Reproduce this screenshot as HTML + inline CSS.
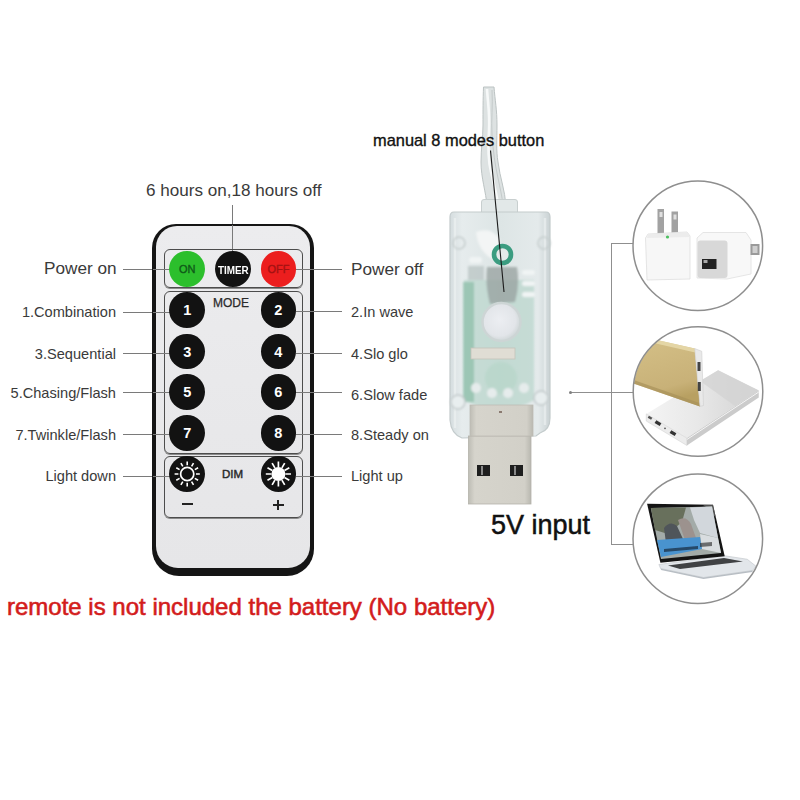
<!DOCTYPE html>
<html><head><meta charset="utf-8">
<style>
*{margin:0;padding:0;box-sizing:border-box}
html,body{width:800px;height:800px;overflow:hidden;background:#fff}
body{position:relative;font-family:"Liberation Sans",sans-serif;color:#3a3a3a}
.a{position:absolute}
.t{position:absolute;white-space:nowrap;line-height:1}
.l{position:absolute;height:1.3px;background:#7a7a7a}
.lr{text-align:right}
.btn{position:absolute;width:35.8px;height:35.8px;border-radius:50%;background:#121212;color:#fff;font-weight:700;font-size:14.5px;text-align:center;line-height:36.5px}
.grp{position:absolute;border:1.6px solid #4c4c4c;border-radius:6px;box-shadow:0 1px 0 #8a8a8a}
</style></head><body>

<!-- top label -->
<div class="t" style="left:146px;top:181.7px;font-size:17.1px">6 hours on,18 hours off</div>
<div class="a" style="left:232px;top:204.5px;width:1.3px;height:46px;background:#7a7a7a"></div>

<!-- left labels -->
<div class="t" style="left:44px;top:260px;font-size:17.2px">Power on</div>
<div class="l" style="left:123px;top:268.5px;width:30px"></div>

<div class="t lr" style="right:684px;top:304.5px;font-size:14.6px">1.Combination</div>
<div class="l" style="left:123px;top:312px;width:30px"></div>
<div class="t lr" style="right:684px;top:346.5px;font-size:14.6px">3.Sequential</div>
<div class="l" style="left:123px;top:353px;width:30px"></div>
<div class="t lr" style="right:684px;top:385.5px;font-size:14.6px">5.Chasing/Flash</div>
<div class="l" style="left:123px;top:392px;width:30px"></div>
<div class="t lr" style="right:684px;top:427.5px;font-size:14.6px">7.Twinkle/Flash</div>
<div class="l" style="left:123px;top:434px;width:30px"></div>
<div class="t lr" style="right:684px;top:469px;font-size:14.6px">Light down</div>
<div class="l" style="left:123px;top:476px;width:30px"></div>

<!-- right labels -->
<div class="t" style="left:351px;top:261px;font-size:17.2px">Power off</div>
<div class="l" style="left:314px;top:268.5px;width:28px"></div>
<div class="t" style="left:351px;top:304.5px;font-size:14.6px">2.In wave</div>
<div class="l" style="left:314px;top:311px;width:28px"></div>
<div class="t" style="left:351px;top:346.5px;font-size:14.6px">4.Slo glo</div>
<div class="l" style="left:314px;top:353px;width:28px"></div>
<div class="t" style="left:351px;top:387.5px;font-size:14.6px">6.Slow fade</div>
<div class="l" style="left:314px;top:392px;width:28px"></div>
<div class="t" style="left:351px;top:427.5px;font-size:14.6px">8.Steady on</div>
<div class="l" style="left:314px;top:434px;width:28px"></div>
<div class="t" style="left:351px;top:469px;font-size:14.6px">Light up</div>
<div class="l" style="left:314px;top:476px;width:28px"></div>

<!-- remote -->
<div class="a" style="left:152px;top:224px;width:162px;height:351.5px;background:#151515;border-radius:24px 24px 27px 27px"></div>
<div class="a" style="left:156px;top:226.2px;width:154px;height:341.5px;background:linear-gradient(#ececee,#e8e8ea 60%,#e6e6e8);border-radius:21px 21px 22px 22px"></div>
<div class="a" style="left:232px;top:225px;width:1.3px;height:27px;background:#7a7a7a"></div>

<div class="grp" style="left:163.5px;top:248.8px;width:139px;height:39.7px"></div>
<div class="grp" style="left:163.5px;top:291px;width:139px;height:162.5px"></div>
<div class="grp" style="left:163.5px;top:455.5px;width:139px;height:62px"></div>

<!-- left lines continue over remote -->
<div class="l" style="left:153px;top:268.5px;width:18px"></div>
<div class="l" style="left:153px;top:312px;width:18px"></div>
<div class="l" style="left:153px;top:353px;width:18px"></div>
<div class="l" style="left:153px;top:392px;width:18px"></div>
<div class="l" style="left:153px;top:434px;width:18px"></div>
<div class="l" style="left:153px;top:476px;width:18px"></div>
<div class="l" style="left:296px;top:268.5px;width:18px"></div>
<div class="l" style="left:296px;top:311px;width:18px"></div>
<div class="l" style="left:296px;top:353px;width:18px"></div>
<div class="l" style="left:296px;top:392px;width:18px"></div>
<div class="l" style="left:296px;top:434px;width:18px"></div>
<div class="l" style="left:296px;top:476px;width:18px"></div>

<div class="btn" style="left:169.30px;top:250.85px;background:#2cbf2c;color:#0f5a18;font-weight:400;font-size:11px;-webkit-text-stroke:.35px #0f5a18">ON</div>
<div class="btn" style="left:214.80px;top:250.85px"><span style="display:inline-block;transform:scaleX(.84);font-size:11.8px">TIMER</span></div>
<div class="btn" style="left:260.50px;top:250.85px;background:#ec1e1e;color:#a81414;font-weight:400;font-size:11px;-webkit-text-stroke:.35px #a01010">OFF</div>

<div class="t" style="left:213px;top:297px;font-size:12px;color:#2a2a2a;-webkit-text-stroke:.25px #2a2a2a">MODE</div>
<div class="btn" style="left:169.30px;top:292.30px">1</div>
<div class="btn" style="left:260.50px;top:292.30px">2</div>
<div class="btn" style="left:169.30px;top:333.60px">3</div>
<div class="btn" style="left:260.50px;top:333.60px">4</div>
<div class="btn" style="left:169.30px;top:374.40px">5</div>
<div class="btn" style="left:260.50px;top:374.40px">6</div>
<div class="btn" style="left:169.30px;top:415.40px">7</div>
<div class="btn" style="left:260.50px;top:415.40px">8</div>

<div class="btn" style="left:169.30px;top:456.10px"></div>
<div class="btn" style="left:260.50px;top:456.10px"></div>
<div class="t" style="left:222px;top:469px;font-size:11.5px;color:#2a2a2a;-webkit-text-stroke:.45px #2a2a2a">DIM</div>
<div class="a" style="left:181.5px;top:503.2px;width:11.5px;height:2.3px;background:#222"></div>
<div class="a" style="left:272.5px;top:504px;width:11.5px;height:2.2px;background:#222"></div>
<div class="a" style="left:277.1px;top:499.5px;width:2.2px;height:10.8px;background:#222"></div>

<!-- red text -->
<div class="t" style="left:7px;top:595px;font-size:24px;color:#d31c1c;-webkit-text-stroke:.6px #d31c1c">remote is not included the battery (No battery)</div>

<!-- USB -->
<div class="t" style="left:491px;top:512px;font-size:27px;color:#111;-webkit-text-stroke:.5px #111">5V input</div>

<!-- bracket -->
<div class="a" style="left:611.3px;top:243px;width:1.2px;height:301.5px;background:#8f8f8f"></div>
<div class="a" style="left:611.3px;top:243px;width:21.7px;height:1.2px;background:#8f8f8f"></div>
<div class="a" style="left:611.3px;top:543.5px;width:21.7px;height:1.2px;background:#8f8f8f"></div>
<div class="a" style="left:570.5px;top:392px;width:62.5px;height:1.2px;background:#8f8f8f"></div>
<div class="a" style="left:569px;top:391px;width:3.2px;height:3.2px;border-radius:50%;background:#808080"></div>



<svg class="a" style="left:0;top:0" width="800" height="800" viewBox="0 0 800 800">
<defs>
  <linearGradient id="cable" x1="0" x2="1">
    <stop offset="0" stop-color="#c9cfcd"/><stop offset=".35" stop-color="#eef1f0"/><stop offset=".7" stop-color="#dfe4e2"/><stop offset="1" stop-color="#c4cac8"/>
  </linearGradient>
  <linearGradient id="body" x1="0" x2="1">
    <stop offset="0" stop-color="#d5dddf"/><stop offset=".12" stop-color="#e6eced"/><stop offset=".5" stop-color="#dde5e5"/><stop offset=".88" stop-color="#e4eaeb"/><stop offset="1" stop-color="#cad2d4"/>
  </linearGradient>
  <linearGradient id="plug" x1="0" x2="1">
    <stop offset="0" stop-color="#bebdb5"/><stop offset=".1" stop-color="#d6d4cc"/><stop offset=".9" stop-color="#d2d0c8"/><stop offset="1" stop-color="#b9b8b0"/>
  </linearGradient>
  <radialGradient id="btnw" cx=".45" cy=".45" r=".6">
    <stop offset="0" stop-color="#eceef2"/><stop offset=".7" stop-color="#e2e5e9"/><stop offset="1" stop-color="#c9d2d2"/>
  </radialGradient>
  <linearGradient id="gold" x1="0" y1="0" x2="0.3" y2="1">
    <stop offset="0" stop-color="#e6d8a6"/><stop offset=".15" stop-color="#d2bd84"/><stop offset=".8" stop-color="#c8b178"/><stop offset="1" stop-color="#b8a062"/>
  </linearGradient>
  <linearGradient id="silver" x1="0" y1="0" x2="1" y2="0">
    <stop offset="0" stop-color="#f4f4f4"/><stop offset=".45" stop-color="#e8e8e8"/><stop offset="1" stop-color="#d2d2d2"/>
  </linearGradient>
  <linearGradient id="screen" x1="0" y1="0" x2="0" y2="1">
    <stop offset="0" stop-color="#7d8a78"/><stop offset=".45" stop-color="#9aa09a"/><stop offset=".7" stop-color="#c9d4dc"/><stop offset=".82" stop-color="#4b8fc4"/><stop offset="1" stop-color="#5b9ccc"/>
  </linearGradient>
  <filter id="bl" x="-20%" y="-20%" width="140%" height="140%"><feGaussianBlur stdDeviation="1.2"/></filter>
  <filter id="bl2" x="-20%" y="-20%" width="140%" height="140%"><feGaussianBlur stdDeviation=".6"/></filter>
  <clipPath id="c2"><circle cx="698" cy="391.5" r="64.5"/></clipPath>
  <clipPath id="c3"><circle cx="698" cy="538.7" r="64.5"/></clipPath>
</defs>

<!-- cable -->
<g filter="url(#bl2)">
<path d="M483.5,87 L494,87 C495,100 497,110 497,125 C497,140 496,150 498,162 C500,178 505,190 506,206 L487,206 C486,192 481,178 481,162 C481,148 483,138 483,125 C483,110 483,100 483.5,87Z" fill="#dde2e2" stroke="#bcc3c3" stroke-width="1"/>
<path d="M487,89 C488,105 490,115 489,130 C488,145 488,160 491,172 C494,185 497,195 498,205" fill="none" stroke="#f7f9f9" stroke-width="2.6"/>
<path d="M492,90 C493,105 491,120 492,135 C493,150 495,165 498,178 C500,188 502,196 503,205" fill="none" stroke="#c4caca" stroke-width="1"/>
</g>
<!-- tab -->
<rect x="481.5" y="199.5" width="36" height="16" rx="2.5" fill="#e2e8e8" stroke="#c8cfcf" stroke-width="1"/>
<!-- body -->
<path d="M454,212 L546,212 Q550,212 550,217 L550,418 Q550,430 540,433 L536,436 L462,438 Q451,434 450,420 L450,217 Q450,212 454,212Z" fill="url(#body)" stroke="#c3cbcc" stroke-width="1.2"/>
<path d="M455,218 L455,428 M545,218 L545,425" stroke="#f2f6f6" stroke-width="2.4" fill="none" opacity=".55" filter="url(#bl2)"/>
<g filter="url(#bl)">
<!-- pcb green -->
<path d="M464,280 L534,280 L534,400 Q500,420 464,400Z" fill="#b3d2c6" opacity=".6"/>
<rect x="463" y="282" width="11" height="120" fill="#7fb8a0" opacity=".6"/>
<!-- upper light V -->
<path d="M476,232 Q492,226 500,240 L494,260 Q478,252 476,232Z" fill="#f3f6f6" opacity=".95"/>
<!-- dark area -->
<path d="M487,267 L517,267 Q520,285 515,302 L490,304 Q485,285 487,267Z" fill="#95a09e" opacity=".75"/>
<rect x="468" y="266" width="16" height="14" fill="#b7c2c1" opacity=".7"/>
<!-- side bumps -->
<circle cx="459" cy="243" r="6" fill="none" stroke="#c5cdcd" stroke-width="1.6"/>
<circle cx="544" cy="243" r="6" fill="none" stroke="#c5cdcd" stroke-width="1.6"/>
<circle cx="458" cy="402" r="7" fill="#e8eeef" stroke="#c0c8c9" stroke-width="1.4"/>
<circle cx="541" cy="398" r="7" fill="#e8eeef" stroke="#c0c8c9" stroke-width="1.4"/>
<rect x="522" y="270" width="13" height="5" rx="2.5" fill="#f0f4f4"/>
<rect x="522" y="281" width="13" height="5" rx="2.5" fill="#f0f4f4"/>
<rect x="522" y="292" width="13" height="5" rx="2.5" fill="#f0f4f4"/>
<rect x="469" y="257" width="13" height="6" rx="3" fill="#f0f4f4"/>
<!-- lower parts -->
<circle cx="501" cy="378" r="16" fill="#b9d7cb" opacity=".8"/>
<circle cx="476" cy="388" r="5" fill="#e6ecec"/>
<circle cx="492" cy="393" r="5" fill="#e6ecec"/>
<circle cx="508" cy="393" r="5" fill="#e6ecec"/>
<circle cx="524" cy="388" r="5" fill="#e6ecec"/>
</g>
<g filter="url(#bl2)">
<!-- green ring -->
<circle cx="502.5" cy="254.5" r="8.5" fill="none" stroke="#3a9c80" stroke-width="4.6"/>
<circle cx="502.5" cy="254.5" r="5.5" fill="#e4eaea"/>
<!-- big button -->
<circle cx="501.5" cy="322" r="19" fill="url(#btnw)" stroke="#cdd5d5" stroke-width="2.5"/>
<!-- beige rect -->
<rect x="471" y="348" width="44" height="11" fill="#e0ddd4" stroke="#c4c2b9" stroke-width=".8"/>
</g>
<!-- plug -->
<rect x="468.5" y="436" width="62.5" height="68" fill="url(#plug)" stroke="#b3b2aa" stroke-width=".8"/>
<rect x="470" y="405" width="63" height="31" fill="url(#plug)" stroke="#bdbcb4" stroke-width=".8"/>
<rect x="477" y="465" width="13" height="11" fill="#1e1e1e"/>
<rect x="510" y="465" width="13" height="11" fill="#1e1e1e"/>
<rect x="481" y="466" width="2" height="9" fill="#888"/>
<rect x="514" y="466" width="2" height="9" fill="#888"/>
<rect x="499" y="411" width="3" height="2" fill="#8a7a70"/>
<!-- black line -->
<line x1="490.5" y1="150.5" x2="504" y2="292" stroke="#1a1a1a" stroke-width="1.1"/>

<!-- circle 1: chargers -->
<g>
  <rect x="657.5" y="209" width="6.5" height="25" fill="#a2a2a2"/><rect x="659.5" y="212" width="3" height="5" fill="#e0e0e0"/>
  <rect x="671.5" y="211.5" width="6.5" height="24" fill="#a2a2a2"/><rect x="673.5" y="214.5" width="3" height="5" fill="#e0e0e0"/>
  <path d="M648,234 L687,232 L690,236 L690,279 L647,280 L645.5,238Z" fill="#f7f7f7" stroke="#dedede" stroke-width=".8"/>
  <path d="M648,234 L687,232 L690,237 L647,238Z" fill="#ececec"/>
  <circle cx="667.5" cy="237" r="1.6" fill="#4cc060"/>
  <path d="M697,238 L703,232.5 L746,232.5 L751,240 L751,274 L727,279 L697,278Z" fill="#f8f8f8" stroke="#e0e0e0" stroke-width=".8"/>
  <rect x="697.5" y="240.5" width="30" height="37.5" rx="3" fill="#d8d8d8"/>
  <rect x="702" y="259" width="14.5" height="10" fill="#222"/>
  <rect x="703.5" y="260" width="4" height="3" fill="#aaa"/>
  <rect x="750.5" y="244" width="9" height="11" fill="#9a9a9a"/>
  <rect x="752.5" y="246" width="5" height="7" fill="#cfcfcf"/>
</g>

<!-- circle 2: power banks -->
<g clip-path="url(#c2)">
  <path d="M646.25,413.9 L718.1,370.2 L758.75,390.5 L686.9,438.1Z" fill="url(#silver)"/>
  <path d="M700,381 L718.1,370.2 L758.75,390.5 L735,406 Z" fill="#d3d3d3" opacity=".8"/>
  <path d="M646.25,413.9 L686.9,438.1 L686.9,445.5 L646.25,421Z" fill="#ececec" stroke="#cfcfcf" stroke-width=".5"/>
  <path d="M686.9,438.1 L758.75,390.5 L758.75,397.5 L686.9,445.5Z" fill="#cbcbcb"/>
  <path d="M686.9,439.5 L758.75,392" stroke="#f4f4f4" stroke-width="1" fill="none"/>
  <rect x="648" y="416.5" width="4" height="2.5" fill="#555" transform="rotate(31 650 417.8)"/>
  <rect x="655" y="421.5" width="6" height="3.2" fill="#333" transform="rotate(31 658 423.1)"/>
  <circle cx="665" cy="428.3" r=".9" fill="#555"/>
  <rect x="670" y="431.5" width="6" height="3.2" fill="#333" transform="rotate(31 673 433.1)"/>
  <path d="M657.1,339.9 L694.75,348.6 L700,406.4 L633.5,383.6 L628,365 L640,350Z" fill="url(#gold)"/>
  <path d="M657.1,339.9 L694.75,348.6 L695.2,352.5 L656,343.5Z" fill="#e9dcae" opacity=".8"/>
  <path d="M633.5,383.6 L700,406.4 L699.5,403 L635,380.5Z" fill="#a8915a" opacity=".7"/>
  <path d="M694.75,348.6 L701.75,351.25 L703.5,405.5 L700,406.4Z" fill="#e9e9e9" stroke="#cfcfcf" stroke-width=".6"/>
  <rect x="697.5" y="362" width="3" height="9" fill="#444"/>
  <rect x="697.8" y="382" width="3" height="9" fill="#444"/>
</g>

<!-- circle 3: laptop -->
<g clip-path="url(#c3)">
  <path d="M658.9,564.5 L724.5,555.75 L747.25,559.25 L756,566.25 L752.5,570.5 L703.5,577.5 L660.6,568.5Z" fill="#e2e6ea" stroke="#c5cace" stroke-width=".7"/>
  <path d="M668,565.5 L724,558 L743,561.5 L680,569Z" fill="#404244"/>
  <path d="M660.6,568.5 L703.5,577.5 L752.5,570.5 L752.5,572 L703.5,579 L661,570Z" fill="#b8bec4"/>
  <path d="M647.1,503.7 L713,504.8 L724.7,556.3 L660.4,562.7Z" fill="#141414"/>
  <path d="M703,505 L713,504.8 L716,518 L706,507Z" fill="#6a6a6a" opacity=".7"/>
  <g filter="url(#bl2)">
  <path d="M650.8,508 L712,506.4 L721,553 L661,559Z" fill="#a3aba8"/>
  <path d="M651,508 L686,507.5 L682,522 L668,534 L655,530Z" fill="#68705c"/>
  <path d="M690,507.5 L712,506.4 L718,538 L700,533 L694,520Z" fill="#d2d7dc"/>
  <path d="M664,528 Q670,520 677,526 L683,539 L666,543Z" fill="#50545a"/>
  <path d="M678,520 Q686,515 691,524 L696,538 L685,540Z" fill="#9c928e"/>
  <path d="M700,534 L718,538 L721,553 L702,549Z" fill="#d9dde0"/>
  <path d="M657,540 L700,537 L702,549 L661,557Z" fill="#4a93cf"/>
  <path d="M664,549 L698,546 L698,549 L664,552Z" fill="#16283c" opacity=".7"/>
  <path d="M700,543 L712,542 L712,546 L700,547Z" fill="#222" opacity=".6"/>
  </g>
</g>

<!-- circle borders -->
<circle cx="697.8" cy="245.7" r="64.8" fill="none" stroke="#8e8e8e" stroke-width="1.5"/>
<circle cx="698" cy="391.5" r="64.8" fill="none" stroke="#8e8e8e" stroke-width="1.5"/>
<circle cx="697.8" cy="538.7" r="64.8" fill="none" stroke="#8e8e8e" stroke-width="1.5"/>

<!-- sun icons -->
<g transform="translate(187.2 474)" stroke="#fff" fill="none" stroke-linecap="butt">
  <circle r="6.6" stroke-width="1.7"/>
  <path d="M0.00,-8.80 L0.00,-12.60 M4.40,-7.62 L6.30,-10.91 M7.62,-4.40 L10.91,-6.30 M8.80,-0.00 L12.60,-0.00 M7.62,4.40 L10.91,6.30 M4.40,7.62 L6.30,10.91 M0.00,8.80 L0.00,12.60 M-4.40,7.62 L-6.30,10.91 M-7.62,4.40 L-10.91,6.30 M-8.80,0.00 L-12.60,0.00 M-7.62,-4.40 L-10.91,-6.30 M-4.40,-7.62 L-6.30,-10.91 " stroke-width="1.6"/>
</g>
<g transform="translate(278.4 474)" stroke="#fff" fill="#fff" stroke-linecap="butt">
  <circle r="7" stroke="none"/>
  <path d="M0.00,-7.00 L0.00,-12.60 M3.50,-6.06 L6.30,-10.91 M6.06,-3.50 L10.91,-6.30 M7.00,-0.00 L12.60,-0.00 M6.06,3.50 L10.91,6.30 M3.50,6.06 L6.30,10.91 M0.00,7.00 L0.00,12.60 M-3.50,6.06 L-6.30,10.91 M-6.06,3.50 L-10.91,6.30 M-7.00,0.00 L-12.60,0.00 M-6.06,-3.50 L-10.91,-6.30 M-3.50,-6.06 L-6.30,-10.91 " stroke-width="1.7" fill="none"/>
</g>
</svg>
<div class="t" style="left:373px;top:132px;font-size:16.4px;color:#111;-webkit-text-stroke:.35px #111">manual 8 modes button</div>
</body></html>
